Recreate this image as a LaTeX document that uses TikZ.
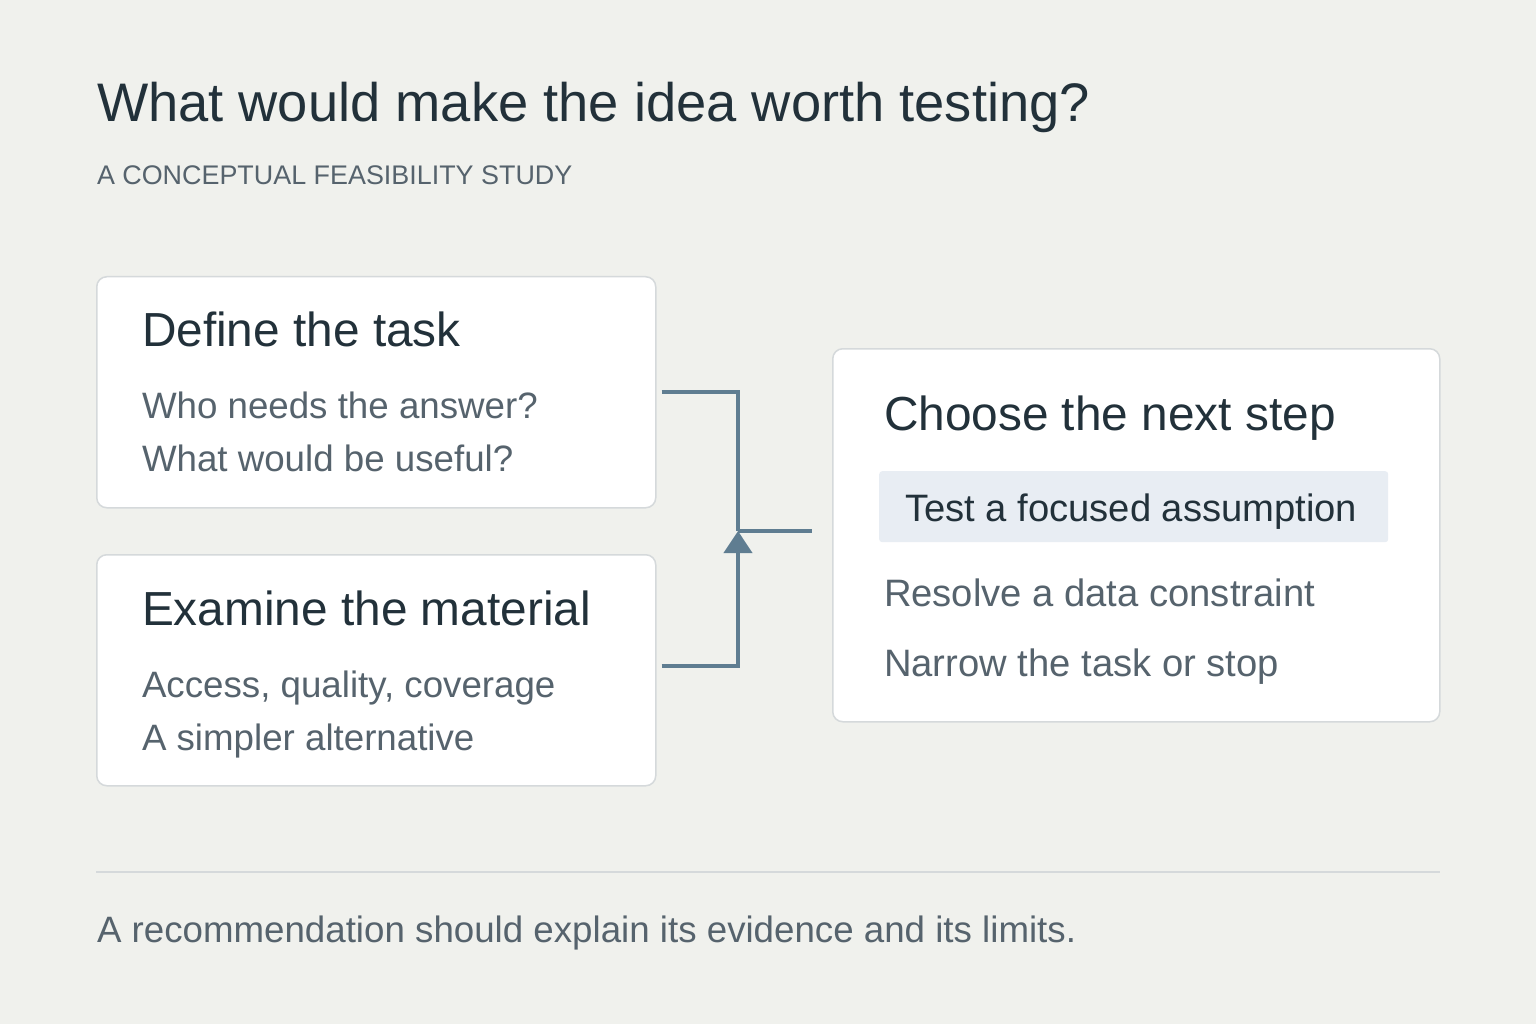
\documentclass[tikz,border=0pt]{standalone}
\usepackage{fontspec}
\setmainfont{Liberation Sans}
\usetikzlibrary{arrows.meta, positioning}
\definecolor{paper}{HTML}{F0F1ED}
\definecolor{ink}{HTML}{22313A}
\definecolor{muted}{HTML}{56636D}
\definecolor{linkblue}{HTML}{5F7D91}
\definecolor{edge}{HTML}{D5D9DB}
\definecolor{pick}{HTML}{E8EDF3}

\begin{document}
\begin{tikzpicture}[
    x=1pt, y=-1pt,
    card/.style={rectangle, rounded corners=10pt, draw=edge, line width=1.5pt, fill=white,
                 anchor=north west, inner sep=0pt},
    txt/.style={anchor=base west, inner sep=0pt, outer sep=0pt},
    heading/.style={txt, text=ink, font=\fontsize{47.8}{54}\selectfont},
    item/.style={txt, text=muted, font=\fontsize{36.7}{42}\selectfont},
    option/.style={txt, text=muted, font=\fontsize{38.2}{44}\selectfont},
    link/.style={draw=linkblue, line width=4pt}
]

% background and page size
\fill[paper] (0,0) rectangle (1536,1024);
\useasboundingbox (0,0) rectangle (1536,1024);

% Title
\node[txt, text=ink, font=\fontsize{54.3}{60}\selectfont] (title) at (97,122) {What would make the idea worth testing?};
\node[txt, text=muted, font=\fontsize{26.9}{30}\selectfont] (subtitle) at (97,185) {A CONCEPTUAL FEASIBILITY STUDY};

% Card 1: Define the task
\node[card, minimum width=559pt, minimum height=231pt] (task) at (96,276) {};
\node[heading] (taskhead) at (142,346) {Define the task};
\node[item] (taskone) at (142,418) {Who needs the answer?};
\node[item] (tasktwo) at (142,471) {What would be useful?};

% Card 2: Examine the material
\node[card, minimum width=559pt, minimum height=231pt] (material) at (96,554) {};
\node[heading] (materialhead) at (142,625) {Examine the material};
\node[item] (materialone) at (142,697) {Access, quality, coverage};
\node[item] (materialtwo) at (142,750) {A simpler alternative};

% Card 3: Choose the next step
\node[card, minimum width=607pt, minimum height=373pt] (next) at (832,348) {};
\node[heading] (nexthead) at (884,430) {Choose the next step};
\node[rectangle, rounded corners=3pt, fill=pick, anchor=north west, inner sep=0pt,
      minimum width=509pt, minimum height=71pt] (focus) at (879,471) {};
\node[option, text=ink] (nextone) at (905,521) {Test a focused assumption};
\node[option] (nexttwo) at (884,606) {Resolve a data constraint};
\node[option] (nextthree) at (884,676) {Narrow the task or stop};

% Connectors
\coordinate (join) at (738,531);
\draw[link] ([xshift=5pt]task.east) -| (join);
\draw[link, -{Triangle[width=28pt, length=22pt]}] ([xshift=5pt, yshift=4pt]material.east) -| (join);
\draw[link] (join) -- ([xshift=-20pt]join -| next.west);

% Footer
\draw[edge, line width=1.5pt] (96,872) -- (1440,872);
\node[txt, text=muted, font=\fontsize{36.7}{42}\selectfont] (footer) at (97,942) {A recommendation should explain its evidence and its limits.};

\end{tikzpicture}
\end{document}
